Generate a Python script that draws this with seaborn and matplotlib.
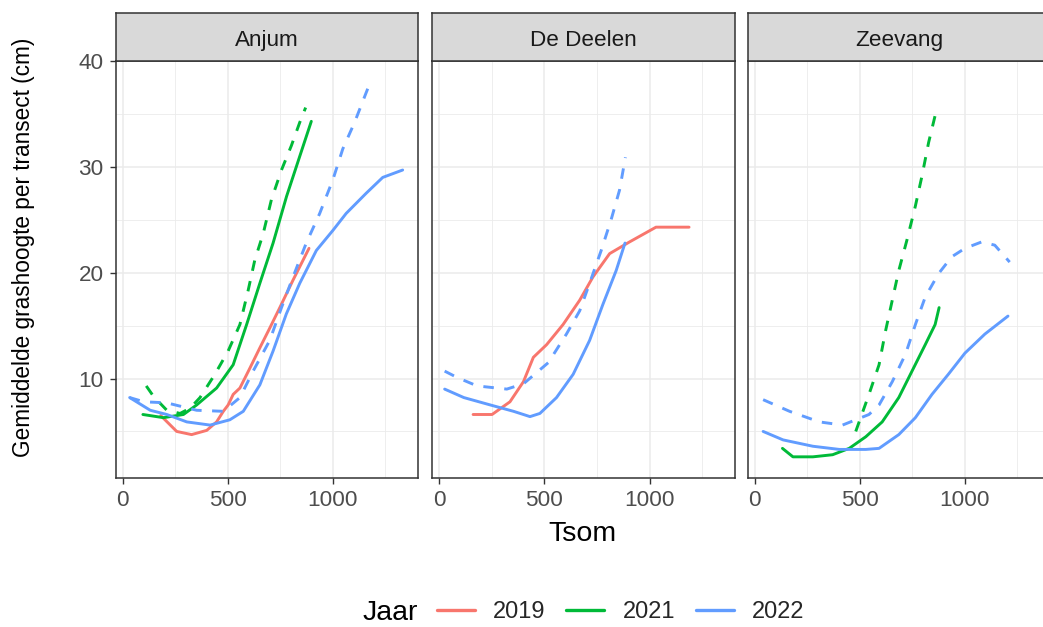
import matplotlib
matplotlib.use("Agg")
import matplotlib.pyplot as plt
from matplotlib.lines import Line2D
import numpy as np
import pandas as pd
import seaborn as sns

# ---- data: Tsom (x) and mean grass height (y) per site, year and series type ----
sites = ["Anjum", "De Deelen", "Zeevang"]
years = ["2019", "2021", "2022"]

anjum_2019_x = [180, 256, 327, 399, 446, 478, 501, 525, 557, 605, 652, 700, 747, 810, 886]
anjum_2019_y = [6.5, 5.0, 4.7, 5.1, 5.9, 6.9, 7.5, 8.5, 9.1, 11.0, 12.9, 14.8, 16.7, 19.3, 22.3]

anjum_2021_x = [95, 193, 288, 351, 446, 525, 589, 652, 715, 779, 842, 897]
anjum_2021_y = [6.6, 6.3, 6.6, 7.5, 9.1, 11.3, 15.1, 19.0, 22.8, 27.2, 31.0, 34.3]

anjum_2021b_x = [111, 146, 209, 272, 320, 367, 438, 501, 557, 596, 628, 668, 707, 755, 802, 842, 870]
anjum_2021b_y = [9.3, 8.3, 7.0, 6.7, 7.2, 8.2, 10.4, 12.6, 15.1, 18.3, 21.2, 23.7, 26.9, 29.7, 32.0, 34.2, 35.6]

anjum_2022_x = [32, 130, 209, 304, 415, 509, 573, 652, 715, 778, 842, 921, 1000, 1063, 1158, 1237, 1332]
anjum_2022_y = [8.2, 7.0, 6.6, 5.9, 5.6, 6.1, 6.9, 9.4, 12.6, 16.1, 19.0, 22.1, 24.0, 25.6, 27.5, 29.0, 29.7]

anjum_2022b_x = [32, 100, 209, 351, 478, 557, 620, 699, 755, 810, 873, 937, 1000, 1047, 1103, 1158, 1174]
anjum_2022b_y = [8.2, 7.8, 7.7, 7.0, 6.9, 8.2, 10.7, 13.6, 16.7, 19.6, 22.8, 25.6, 28.8, 31.7, 34.2, 37.0, 37.8]

deelen_2019_x = [162, 252, 337, 401, 448, 511, 589, 668, 731, 810, 904, 1030, 1187]
deelen_2019_y = [6.6, 6.6, 7.8, 9.7, 12.0, 13.2, 15.1, 17.4, 19.6, 21.8, 22.9, 24.3, 24.3]

deelen_2022_x = [27, 118, 244, 354, 432, 479, 558, 637, 715, 778, 841, 883]
deelen_2022_y = [9.0, 8.2, 7.5, 6.9, 6.4, 6.7, 8.2, 10.4, 13.6, 17.0, 20.2, 22.8]

deelen_2022b_x = [27, 86, 181, 322, 401, 519, 605, 668, 715, 770, 817, 857, 885]
deelen_2022b_y = [10.7, 10.1, 9.3, 9.0, 9.5, 11.5, 14.2, 16.4, 19.0, 22.1, 25.0, 27.8, 30.9]

zeevang_2021_x = [131, 181, 276, 370, 449, 528, 606, 685, 748, 811, 858, 877]
zeevang_2021_y = [3.4, 2.6, 2.6, 2.8, 3.4, 4.5, 5.9, 8.2, 10.7, 13.2, 15.1, 16.7]

zeevang_2021b_x = [480, 543, 591, 622, 654, 685, 724, 764, 795, 827, 866]
zeevang_2021b_y = [5.0, 8.5, 11.3, 14.5, 17.4, 20.2, 23.1, 26.3, 29.1, 32.3, 35.5]

zeevang_2022_x = [39, 134, 276, 402, 528, 591, 685, 764, 843, 921, 1000, 1095, 1205]
zeevang_2022_y = [5.0, 4.2, 3.6, 3.3, 3.3, 3.4, 4.7, 6.3, 8.5, 10.4, 12.4, 14.2, 15.9]

zeevang_2022b_x = [39, 165, 307, 417, 480, 543, 591, 654, 717, 764, 811, 874, 937, 1000, 1079, 1142, 1213]
zeevang_2022b_y = [8.0, 6.9, 5.9, 5.6, 6.1, 6.6, 7.5, 9.7, 12.3, 15.1, 17.7, 19.9, 21.5, 22.3, 22.9, 22.6, 21.0]

series = [
    ("Anjum", "2019", "a", anjum_2019_x, anjum_2019_y),
    ("Anjum", "2021", "a", anjum_2021_x, anjum_2021_y),
    ("Anjum", "2021", "b", anjum_2021b_x, anjum_2021b_y),
    ("Anjum", "2022", "a", anjum_2022_x, anjum_2022_y),
    ("Anjum", "2022", "b", anjum_2022b_x, anjum_2022b_y),
    ("De Deelen", "2019", "a", deelen_2019_x, deelen_2019_y),
    ("De Deelen", "2022", "a", deelen_2022_x, deelen_2022_y),
    ("De Deelen", "2022", "b", deelen_2022b_x, deelen_2022b_y),
    ("Zeevang", "2021", "a", zeevang_2021_x, zeevang_2021_y),
    ("Zeevang", "2021", "b", zeevang_2021b_x, zeevang_2021b_y),
    ("Zeevang", "2022", "a", zeevang_2022_x, zeevang_2022_y),
    ("Zeevang", "2022", "b", zeevang_2022b_x, zeevang_2022b_y),
]

rows = []
for site, year, kind, xs, ys in series:
    for x, y in zip(xs, ys):
        rows.append({"Locatie": site, "Jaar": year, "Type": kind, "Tsom": x, "Hoogte": y})
df = pd.DataFrame(rows)

palette = {"2019": "#F8766D", "2021": "#00BA38", "2022": "#619CFF"}
dashes = {"a": "", "b": (3.6, 3.6)}

# ---- layout (pixel boxes on a 1043 x 627 canvas) ----
W, H = 1043, 627
sns.set_theme(style="white")
plt.rcParams["font.family"] = ["Liberation Sans", "DejaVu Sans"]

fig = plt.figure(figsize=(W / 100, H / 100), dpi=100)
fig.patch.set_facecolor("white")


def box(x0, y0, x1, y1):
    return [x0 / W, 1 - y1 / H, (x1 - x0) / W, (y1 - y0) / H]


panel_x = [(116, 418), (432, 735), (748, 1050)]
top, bottom, strip_top = 61, 478, 13
xlim = (-33, 1405)
ylim = (0.6, 39.9)
border = "#333333"

for i, (site, (x0, x1)) in enumerate(zip(sites, panel_x)):
    ax = fig.add_axes(box(x0, top, x1, bottom))
    ax.set_facecolor("white")
    ax.set_xlim(*xlim)
    ax.set_ylim(*ylim)
    ax.set_xticks([0, 500, 1000])
    ax.set_xticks([250, 750, 1250], minor=True)
    ax.set_yticks([10, 20, 30, 40])
    ax.set_yticks([5, 15, 25, 35], minor=True)
    ax.grid(True, which="major", color="#EBEBEB", linewidth=1.1, zorder=0)
    ax.grid(True, which="minor", color="#EBEBEB", linewidth=0.6, zorder=0)
    ax.set_axisbelow(True)

    sub = df[df["Locatie"] == site]
    sns.lineplot(data=sub, x="Tsom", y="Hoogte", hue="Jaar", style="Type",
                 palette=palette, dashes=dashes, hue_order=years,
                 style_order=["a", "b"], estimator=None, sort=True,
                 linewidth=2.1, legend=False, ax=ax)

    ax.set_xlabel("")
    ax.set_ylabel("")
    for sp in ax.spines.values():
        sp.set_visible(True)
        sp.set_color(border)
        sp.set_linewidth(1.1)
    ax.tick_params(axis="both", which="major", length=4.5, width=1.0,
                   color=border, labelcolor="#4D4D4D", labelsize=16.2,
                   direction="out", bottom=True, left=True, pad=4.5)
    ax.tick_params(axis="both", which="minor", length=0)
    if i > 0:
        ax.tick_params(axis="y", left=False, labelleft=False)

    # facet strip
    sax = fig.add_axes(box(x0, strip_top, x1, top))
    sax.set_facecolor("#D9D9D9")
    sax.set_xticks([])
    sax.set_yticks([])
    for sp in sax.spines.values():
        sp.set_color(border)
        sp.set_linewidth(1.1)
    fig.text((x0 + x1) / 2 / W, 1 - 46 / H, site,
             ha="center", va="baseline", fontsize=16.2, color="#1A1A1A")

# axis titles
fig.text(582 / W, 1 - 534 / H, "Tsom", ha="center", va="center", fontsize=20.5, color="black")
fig.text(24 / W, 1 - 247 / H, "Gemiddelde grashoogte per transect (cm)", ha="center",
         va="center", rotation=90, fontsize=16.3, color="black")

# legend for Jaar (title drawn to the left of the keys)
fig.text(418 / W, 1 - 613 / H, "Jaar", ha="right", va="center", fontsize=20.5, color="black")
handles = [Line2D([0], [0], color=palette[y], linewidth=2.4) for y in years]
fig.legend(handles, years, loc="center left", ncol=3,
           bbox_to_anchor=(437 / W, 1 - 612 / H), frameon=False,
           fontsize=17, handlelength=1.6, handletextpad=0.78,
           columnspacing=0.88, borderpad=0, borderaxespad=0)

fig.savefig("out.png", dpi=100, facecolor="white")
